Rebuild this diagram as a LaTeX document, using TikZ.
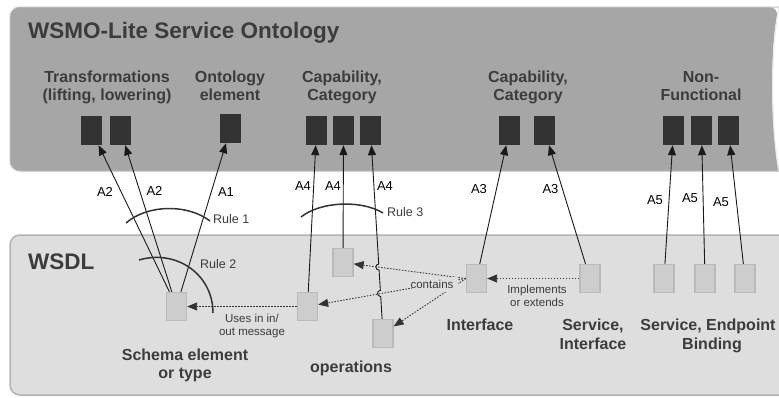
\documentclass[tikz,border=0pt]{standalone}
\usepackage{fontspec}
\setmainfont{Liberation Sans}
\usetikzlibrary{arrows.meta,calc}
\definecolor{topfill}{HTML}{A6A6A6}
\definecolor{topedge}{HTML}{BDBDBD}
\definecolor{botfill}{HTML}{DEDEDE}
\definecolor{botedge}{HTML}{B3B3B3}
\definecolor{dark}{HTML}{333333}
\definecolor{txt}{HTML}{3C3C3C}
\definecolor{gbox}{HTML}{CDCDCD}
\definecolor{gedge}{HTML}{BABABA}
\begin{document}
\begin{tikzpicture}[x=1pt,y=-1pt,
  blk/.style={fill=dark,minimum width=21pt,minimum height=29pt,inner sep=0pt},
  gbx/.style={fill=gbox,draw=gedge,line width=1.3pt,minimum width=20pt,minimum height=28pt,inner sep=0pt},
  arr/.style={draw=black!90,line width=0.9pt,-{Triangle[length=10pt,width=8pt]}},
  dotarr/.style={draw=dark,line width=0.9pt,dash pattern=on 1.5pt off 1.5pt,-{Triangle[length=10pt,width=8pt]}},
  ruleline/.style={draw=dark,line width=1.5pt},
  ttl/.style={font=\fontsize{22.5}{26}\selectfont\bfseries,text=txt,inner sep=0pt,anchor=base west},
  cat/.style={font=\fontsize{16}{19}\selectfont\bfseries,text=txt,inner sep=0pt,anchor=base},
  small/.style={font=\fontsize{11.5}{13.5}\selectfont,text=txt,inner sep=0pt,anchor=base},
  rulelab/.style={font=\fontsize{12.5}{15}\selectfont,text=txt,inner sep=0pt,anchor=base west},
  alab/.style={font=\fontsize{13}{15}\selectfont,text=black,inner sep=0pt}]
\useasboundingbox (0,0) rectangle (779,397);
\clip (0,0) rectangle (779,397);

% background panels
\fill[topfill, rounded corners=10pt] (779,171) -- (10,171) -- (10,7) -- (779,7) [sharp corners] .. controls (770,50) and (771,130) .. (779,171) -- cycle;
\draw[topedge, line width=1pt, rounded corners=10pt] (779,171) -- (10,171) -- (10,7) -- (779,7);
\draw[white!92!black, line width=1.2pt] (779,7) .. controls (770,50) and (771,130) .. (779,171);
\draw[fill=botfill, draw=botedge, line width=1.5pt, rounded corners=10pt] (10,235) rectangle (800,395);

% titles
\node[ttl] (ttop) at (28,38) {WSMO-Lite Service Ontology};
\node[ttl] (tbot) at (28,269) {WSDL};

% ontology category labels
\node[cat] (lt1) at (107,82) {Transformations};
\node[cat] (lt2) at (107,100) {(lifting, lowering)};
\node[cat] (lo1) at (230,82) {Ontology};
\node[cat] (lo2) at (230,100) {element};
\node[cat] (lc1) at (342,82) {Capability,};
\node[cat] (lc2) at (342,100) {Category};
\node[cat] (lk1) at (528,82) {Capability,};
\node[cat] (lk2) at (528,100) {Category};
\node[cat] (ln1) at (701,82) {Non-};
\node[cat] (ln2) at (701,100) {Functional};

% black ontology boxes
\node[blk] (t1) at (91.5,130.5) {};
\node[blk] (t2) at (120.5,130.5) {};
\node[blk] (o1) at (230.5,128.5) {};
\node[blk] (c1) at (316.5,130.5) {};
\node[blk] (c2) at (343.5,130.5) {};
\node[blk] (c3) at (370.5,130.5) {};
\node[blk] (k1) at (509.5,130.5) {};
\node[blk] (k2) at (544.5,130.5) {};
\node[blk] (n1) at (673.5,130.5) {};
\node[blk] (n2) at (701.5,130.5) {};
\node[blk] (n3) at (728.5,130.5) {};

% WSDL boxes
\node[gbx] (schema) at (176.5,306.5) {};
\node[gbx] (op1) at (307.5,306.5) {};
\node[gbx] (op2) at (343,262.5) {};
\node[gbx] (op3) at (383,333.5) {};
\node[gbx] (iface) at (476.5,278.5) {};
\node[gbx] (serv) at (590,278.5) {};
\node[gbx] (e1) at (664,278.5) {};
\node[gbx] (e2) at (705,278.5) {};
\node[gbx] (e3) at (745,278.5) {};

% WSDL labels
\node[cat] (ls1) at (185,360) {Schema element};
\node[cat] (ls2) at (185,378) {or type};
\node[cat] (lop) at (351,372) {operations};
\node[cat] (lif) at (480,330) {Interface};
\node[cat] (lsv1) at (593,330) {Service,};
\node[cat] (lsv2) at (593,349) {Interface};
\node[cat] (le1) at (708,330) {Service, Endpoint};
\node[cat] (le2) at (712,349) {Binding};

% annotation arrows
\draw[arr] (schema) -- (t1);
\draw[arr] (schema) -- (t2);
\draw[arr] (schema) -- (o1);
\draw[arr] (op1) -- (c1);
\draw[arr] (op2) -- (c2);
\coordinate (ja1) at ($(op3.center)!0.182!(c3.center)$);
\coordinate (jb1) at ($(op3.center)!0.212!(c3.center)$);
\coordinate (ja2) at ($(op3.center)!0.312!(c3.center)$);
\coordinate (jb2) at ($(op3.center)!0.342!(c3.center)$);
\draw[arr] (op3) -- (ja1) .. controls ($(ja1)+(-4,0)$) and ($(jb1)+(-4,0)$) .. (jb1)
  -- (ja2) .. controls ($(ja2)+(-4,0)$) and ($(jb2)+(-4,0)$) .. (jb2) -- (c3);
\draw[arr] (iface) -- (k1);
\draw[arr] (serv) -- (k2);
\draw[arr] (e1) -- (n1);
\draw[arr] (e2) -- (n2);
\draw[arr] (e3) -- (n3);

% A labels
\node[alab] (a2a) at (105,192) {A2};
\node[alab] (a2b) at (154.5,191) {A2};
\node[alab] (a1) at (226,192) {A1};
\node[alab] (a4a) at (303,186.5) {A4};
\node[alab] (a4b) at (333,186.5) {A4};
\node[alab] (a4c) at (385,186.5) {A4};
\node[alab] (a3a) at (479,189) {A3};
\node[alab] (a3b) at (550.5,189) {A3};
\node[alab] (a5a) at (655,200) {A5};
\node[alab] (a5b) at (690,198) {A5};
\node[alab] (a5c) at (721,202) {A5};

% rules
\draw[ruleline] (126,223) .. controls (148,204) and (188,204) .. (210,221);
\draw[ruleline] (139,260) .. controls (176,249) and (213,274) .. (213,313);
\draw[ruleline] (301,217) .. controls (321,201) and (362,200) .. (383,213);
\node[rulelab] (r1) at (213,223) {Rule 1};
\node[rulelab] (r2) at (200,268) {Rule 2};
\node[rulelab] (r3) at (387,216) {Rule 3};

% dotted relations
\draw[dotarr] (op1) -- (schema);
\draw[dotarr] (serv) -- (iface);
\draw[dotarr] (iface.west) -- (op2);
\draw[dotarr] (iface.west) -- (op1);
\draw[dotarr] (iface.west) -- (op3);
\node[fill=botfill, inner sep=0pt, minimum width=46pt, minimum height=15pt] (contbg) at (435,284) {};
\node[small] (cont) at (432,288) {contains};
\node[small] (uses1) at (252,322) {Uses in in/};
\node[small] (uses2) at (252,335.5) {out message};
\node[small] (impl1) at (537,293) {Implements};
\node[small] (impl2) at (537,306) {or extends};
\end{tikzpicture}
\end{document}
